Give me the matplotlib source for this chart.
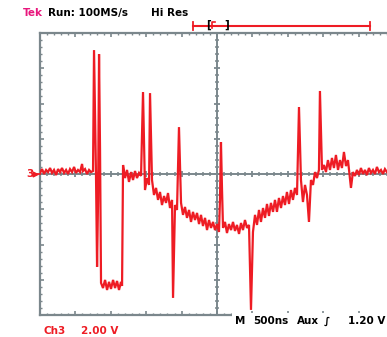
import matplotlib
matplotlib.use("Agg")
import matplotlib.pyplot as plt
from matplotlib.lines import Line2D
from matplotlib.patches import Rectangle
from matplotlib.ticker import MultipleLocator

# ---- data: time (ns, relative to trigger) and Ch3 voltage (V) ----
t_ns = [-2499, -2471, -2443, -2414, -2386, -2358, -2330, -2302, -2273, -2245,
        -2217, -2189, -2160, -2132, -2104, -2076, -2047, -2019, -1991, -1963,
        -1934, -1906, -1892, -1864, -1836, -1807, -1779, -1751, -1737, -1709,
        -1694, -1680, -1666, -1652, -1638, -1610, -1581, -1553, -1525, -1497,
        -1468, -1440, -1412, -1384, -1356, -1341, -1327, -1299, -1271, -1243,
        -1214, -1186, -1158, -1130, -1101, -1073, -1045, -1017, -988, -960,
        -946, -918, -890, -861, -833, -805, -777, -748, -720, -692,
        -664, -635, -621, -593, -565, -537, -508, -480, -452, -424,
        -395, -367, -339, -311, -282, -254, -226, -198, -169, -141,
        -113, -85, -56, -28, 0, 28, 42, 56, 71, 85,
        113, 141, 169, 198, 226, 254, 282, 311, 339, 367,
        395, 424, 452, 480, 508, 537, 565, 593, 621, 650,
        678, 706, 734, 762, 791, 819, 847, 875, 904, 932,
        960, 988, 1017, 1045, 1073, 1101, 1130, 1158, 1186, 1214,
        1243, 1271, 1299, 1327, 1356, 1384, 1412, 1440, 1454, 1483,
        1511, 1539, 1567, 1596, 1624, 1652, 1680, 1709, 1737, 1765,
        1793, 1822, 1850, 1878, 1892, 1920, 1949, 1977, 2005, 2033,
        2062, 2090, 2118, 2146, 2174, 2203, 2231, 2259, 2287, 2316,
        2344, 2372, 2400, 2443, 2485]
v_ch3 = [0.06, 0.28, 0.00, 0.23, 0.11, 0.34, 0.06, 0.23, -0.06, 0.28,
         0.11, 0.34, 0.06, 0.23, 0.00, 0.28, 0.11, 0.40, 0.06, 0.23,
         0.11, 0.57, 0.17, 0.28, 0.00, 0.23, 0.11, 0.17, 7.03, -0.06,
         -5.27, -1.47, 6.80, 1.36, -6.18, -6.47, -6.01, -6.58, -6.12, -6.52,
         -6.01, -6.47, -6.07, -6.58, -6.12, -6.35, 0.51, -0.23, 0.23, -0.45,
         0.11, -0.34, 0.17, -0.23, 0.06, -0.11, 4.65, -0.91, -0.23, -0.62,
         4.59, -0.34, -1.19, -0.79, -1.47, -1.02, -1.76, -1.25, -1.64, -1.08,
         -1.93, -1.47, -7.03, -1.76, -2.04, 2.66, -1.64, -2.32, -1.87, -2.49,
         -2.04, -2.72, -2.15, -2.61, -2.21, -2.84, -2.32, -2.95, -2.49, -3.18,
         -2.61, -3.06, -2.72, -3.18, -2.84, -3.29, -1.47, 1.81, -0.91, -3.06,
         -2.72, -3.35, -2.84, -3.18, -2.72, -3.23, -2.89, -3.40, -2.78, -3.18,
         -2.61, -3.06, -2.89, -7.71, -3.29, -2.32, -2.89, -2.04, -2.72, -1.93,
         -2.49, -1.70, -2.38, -1.64, -2.15, -1.47, -2.15, -1.36, -1.93, -1.25,
         -1.76, -1.02, -1.70, -0.91, -1.47, -0.79, -1.19, 3.80, -0.34, -1.59,
         -0.62, -1.19, -2.72, -0.34, -0.62, 0.11, -0.23, 0.23, 4.71, 0.23,
         0.51, 0.11, 0.79, 0.23, 0.91, 0.34, 1.08, 0.23, 0.79, 0.34,
         1.25, 0.45, 0.79, -0.23, -0.79, 0.11, -0.11, 0.23, -0.06, 0.34,
         0.00, 0.23, -0.06, 0.34, 0.06, 0.23, 0.00, 0.40, 0.11, 0.23,
         0.00, 0.28, 0.11, 0.23, 0.06]

ns_per_div = 500
volts_per_div = 2.0

W, H = 387, 337
RED = "#ee1c24"
MAG = "#e8177d"
GRAY = "#7b878c"

def fx(px):
    return px / W

def fy(py):
    return 1 - py / H

fig = plt.figure(figsize=(W / 100, H / 100), dpi=100)
fig.patch.set_facecolor("white")

rect = [fx(40), fy(315), (394 - 40) / W, (315 - 33) / H]
xlim = (-5 * ns_per_div, 5 * ns_per_div)
ylim = (-4 * volts_per_div, 4 * volts_per_div)

# center cross axes (background)
axc = fig.add_axes(rect, zorder=0)
axc.set_xlim(*xlim)
axc.set_ylim(*ylim)
axc.patch.set_alpha(0)
for s in ("top", "right"):
    axc.spines[s].set_visible(False)
axc.spines["left"].set_position(("data", 0))
axc.spines["bottom"].set_position(("data", 0))
for s in ("left", "bottom"):
    axc.spines[s].set_color(GRAY)
    axc.spines[s].set_linewidth(1.4)
axc.xaxis.set_major_locator(MultipleLocator(ns_per_div))
axc.xaxis.set_minor_locator(MultipleLocator(ns_per_div / 5))
axc.yaxis.set_major_locator(MultipleLocator(volts_per_div))
axc.yaxis.set_minor_locator(MultipleLocator(volts_per_div / 5))
axc.tick_params(which="both", direction="inout", color=GRAY, labelbottom=False,
                labelleft=False)
axc.tick_params(which="major", length=5, width=1.3)
axc.tick_params(which="minor", length=3, width=1.1)

# main axes: border + trace
ax = fig.add_axes(rect, zorder=1)
ax.patch.set_alpha(0)
ax.set_xlim(*xlim)
ax.set_ylim(*ylim)
for s in ax.spines.values():
    s.set_color(GRAY)
    s.set_linewidth(1.6)
ax.xaxis.set_major_locator(MultipleLocator(ns_per_div))
ax.xaxis.set_minor_locator(MultipleLocator(ns_per_div / 5))
ax.yaxis.set_major_locator(MultipleLocator(volts_per_div))
ax.yaxis.set_minor_locator(MultipleLocator(volts_per_div / 5))
ax.tick_params(which="both", direction="in", color=GRAY, top=True, right=True,
               labelbottom=False, labelleft=False)
ax.tick_params(which="major", length=3.2, width=1.2)
ax.tick_params(which="minor", length=1.6, width=1.0)

ax.plot(t_ns, v_ch3, color=RED, lw=1.6, solid_joinstyle="miter", zorder=3)

# ---- texts ----
bold = dict(fontsize=7.5, fontweight="bold", va="center", ha="left",
            family="DejaVu Sans")
fig.text(fx(23), fy(13), "Tek", color=MAG, **bold)
fig.text(fx(48), fy(13), "Run: 100MS/s", color="black", **bold)
fig.text(fx(151), fy(13), "Hi Res", color="black", **bold)

# record view bar
fig.add_artist(Line2D([fx(193), fx(370)], [fy(26), fy(26)], color=RED, lw=1.5))
for px in (193, 370):
    fig.add_artist(Line2D([fx(px), fx(px)], [fy(22), fy(30)], color=RED, lw=1.3))
fig.text(fx(206), fy(25), "[", color="black", **bold)
fig.text(fx(224), fy(25), "]", color="black", **bold)
fig.add_artist(Line2D([fx(212), fx(212), fx(215)], [fy(28), fy(22), fy(22)],
                      color=RED, lw=1.2))

# ground / offset marker
fig.text(fx(26), fy(174), "3", color=RED, **bold)
fig.add_artist(Line2D([fx(34), fx(40)], [fy(174), fy(174)], color=RED, lw=1.3))
fig.add_artist(Line2D([fx(35)], [fy(174)], color=RED, marker=">", ms=3.5, lw=0))

# bottom status bar
fig.add_artist(Rectangle((fx(232), fy(329)), 1 - fx(232), (329 - 313) / H,
                         transform=fig.transFigure, facecolor="white",
                         edgecolor="none", zorder=2))
fig.text(fx(235), fy(321), "M", color="black", zorder=3, **bold)
fig.text(fx(253), fy(321), "500ns", color="black", zorder=3, **bold)
fig.text(fx(297), fy(321), "Aux", color="black", zorder=3, **bold)
fig.text(fx(324), fy(321), "\u222b", color="black", zorder=3, **bold)
fig.text(fx(348), fy(321), "1.20 V", color="black", zorder=3, **bold)

fig.text(fx(43), fy(331), "Ch3", color=RED, **bold)
fig.text(fx(81), fy(331), "2.00 V", color=RED, **bold)

fig.savefig("out.png", dpi=100, facecolor="white")
